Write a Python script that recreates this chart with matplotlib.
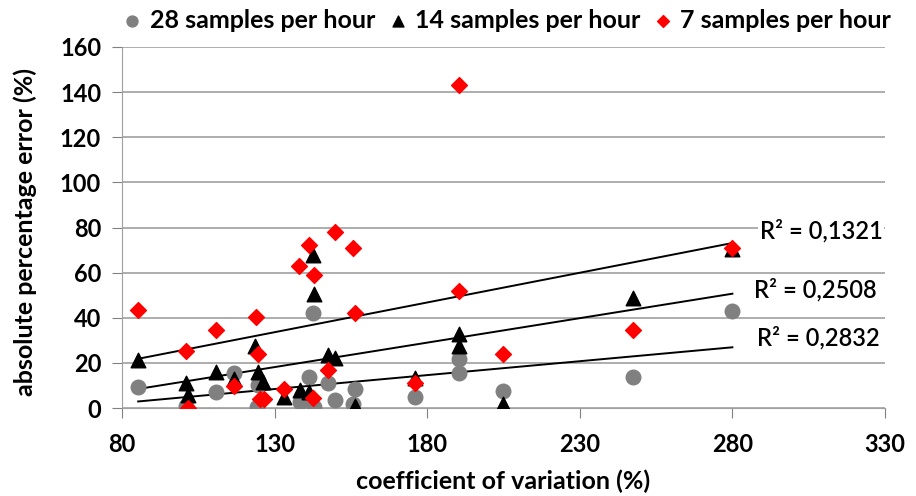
import numpy as np
import matplotlib
matplotlib.use("Agg")
import matplotlib.pyplot as plt

plt.rcParams['font.family'] = ['Lato', 'DejaVu Sans']

# 28 samples per hour
x28 = [85.3, 101, 110.7, 116.7, 124.1, 124.7, 138.3, 141.4, 142.5, 143, 147.6, 149.8,
       156.3, 155.8, 176, 190.5, 190.5, 204.7, 247.3, 280]
y28 = [9.2, 0.8, 7.1, 15.4, 0.6, 10.1, 2.6, 13.6, 41.9, 0.5, 11.1, 3.7,
       8.6, 1.6, 4.9, 21.8, 15.4, 7.6, 13.8, 42.8]

# 14 samples per hour
x14 = [85.3, 101, 101.7, 110.7, 116.7, 123.6, 124.7, 126.1, 133.1, 138.3, 141.4, 142.5,
       143, 147.6, 149.8, 156.3, 176, 190.5, 190.5, 204.7, 247.3, 280]
y14 = [21.3, 10.9, 5.6, 16.1, 12.7, 27.3, 16.1, 11.6, 4.9, 7.9, 7.1, 67.8,
       50.6, 23.6, 22.1, 1.1, 13.1, 32.6, 27.6, 1.9, 48.6, 70.5]

# 7 samples per hour
x7 = [85.3, 101, 101.7, 110.7, 116.7, 123.9, 124.7, 125.2, 126.5, 133.1, 138.1, 141.4,
      143, 142.5, 149.8, 147.6, 155.8, 156.3, 176, 190.5, 190.5, 204.7, 247.3, 280]
y7 = [43.4, 25.1, 0.2, 34.5, 9.7, 40.4, 24, 4.1, 4.1, 8.6, 63, 72.3,
      58.8, 4.6, 78, 16.9, 71.1, 41.9, 11.1, 143, 51.8, 23.9, 34.5, 71]

r2_labels = ["R² = 0,1321", "R² = 0,2508", "R² = 0,2832"]
xticks = [80, 130, 180, 230, 280, 330]
yticks = [0, 20, 40, 60, 80, 100, 120, 140, 160]

fig = plt.figure(figsize=(9.16, 4.96), dpi=100)
ax = fig.add_axes([122/916, 1-408/496, 763/916, 361/496])

ax.scatter(x28, y28, marker='o', s=110, color='#808080', label='28 samples per hour', zorder=3)
ax.scatter(x14, y14, marker='^', s=110, color='black', label='14 samples per hour', zorder=4)
ax.scatter(x7, y7, marker='D', s=65, color='#ff0000', label='7 samples per hour', zorder=5)

# linear trendlines
for xs, ys in [(x28, y28), (x14, y14), (x7, y7)]:
    m, b = np.polyfit(xs, ys, 1)
    xx = np.array([min(xs), max(xs)])
    ax.plot(xx, m*xx + b, color='black', lw=1.4, zorder=2)

lab_pos = [(289, 78.5), (287, 52.5), (288, 31)]
for (lx, ly), t in zip(lab_pos, r2_labels):
    ax.text(lx, ly, t, fontsize=17, fontweight='semibold', va='center', ha='left',
            bbox=dict(facecolor='white', edgecolor='none', pad=1), zorder=6)

ax.set_xlim(80, 330)
ax.set_ylim(0, 160)
ax.set_xticks(xticks)
ax.set_yticks(yticks)
ax.tick_params(axis='both', labelsize=17, colors='#808080', labelcolor='black', length=7)
ax.tick_params(axis='x', direction='out', pad=11)
ax.tick_params(axis='y', pad=8)
for lbl in ax.get_xticklabels() + ax.get_yticklabels():
    lbl.set_fontweight('bold')
ax.grid(axis='y', color='#a0a0a0', lw=1.2)
ax.set_axisbelow(True)
for s in ['top', 'right']:
    ax.spines[s].set_visible(False)
ax.spines['left'].set_color('#a0a0a0')
ax.spines['bottom'].set_color('#a0a0a0')

fig.text(503/916, 1-481/496, 'coefficient of variation (%)', fontsize=18, fontweight='bold',
         ha='center', va='center')
fig.text(25/916, 1-232/496, 'absolute percentage error (%)', fontsize=18, fontweight='bold',
         ha='center', va='center', rotation=90)

fig.legend(loc='center', bbox_to_anchor=(508/916, 1-20/496), ncol=3, frameon=False,
           prop=dict(size=18, weight='bold'), handlelength=0.6, handletextpad=0.4,
           columnspacing=0.6, markerscale=0.75, borderaxespad=0, borderpad=0)

fig.savefig('out.png', dpi=100)
